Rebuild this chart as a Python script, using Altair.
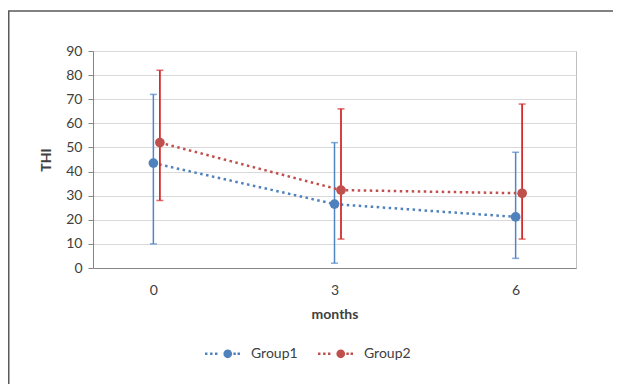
import altair as alt
import pandas as pd

months = [0, 3, 6]
groups = ["Group1", "Group2"]
g1_mean = [43.5, 26.5, 21.2]
g1_lo = [10, 2, 4]
g1_hi = [72, 52, 48]
g2_mean = [52, 32.3, 31]
g2_lo = [28, 12, 12]
g2_hi = [82, 66, 68]
y_ticks = list(range(0, 100, 10))

rows = []
for g, mean, lo, hi in [("Group1", g1_mean, g1_lo, g1_hi), ("Group2", g2_mean, g2_lo, g2_hi)]:
    for m, v, l, h in zip(months, mean, lo, hi):
        rows.append({"months": m, "group": g, "THI": v, "lo": l, "hi": h})
df = pd.DataFrame(rows)

FONT = "Lato"
colors = ["#4F81BD", "#C0504D"]
err_colors = ["#4F86C6", "#D42B2B"]
offsets = [0, 6.5]

xs = alt.Scale(domain=[-1, 7], nice=False, zero=False)
ys = alt.Scale(domain=[0, 90], nice=False)
cscale = alt.Scale(domain=groups, range=colors)

x_axis = alt.Axis(
    values=months, ticks=False, grid=False, domainColor="#868686",
    labelPadding=15, labelFontSize=14, labelColor="#404040", labelFont=FONT,
    title="months", titleFontWeight="bold", titleFontSize=14, titleColor="#404040",
    titleFont=FONT, titlePadding=10)
y_axis = alt.Axis(
    values=y_ticks, tickSize=5, tickColor="#868686", domainColor="#868686",
    gridColor="#D9D9D9", labelPadding=6, labelFontSize=14, labelColor="#404040",
    labelFont=FONT, labelOverlap=False, title="THI", titleFontWeight="bold",
    titleFontSize=14, titleColor="#404040", titleFont=FONT, titlePadding=12)

x_enc = alt.X("months:Q", scale=xs, axis=x_axis)

sym_path = ("M-1,-0.07 L-0.86,-0.07 L-0.86,0.07 L-1,0.07 Z "
            "M-0.71,-0.07 L-0.57,-0.07 L-0.57,0.07 L-0.71,0.07 Z "
            "M-0.43,-0.07 L-0.29,-0.07 L-0.29,0.07 L-0.43,0.07 Z "
            "M0.05,0 A0.25,0.25 0 1,0 0.55,0 A0.25,0.25 0 1,0 0.05,0 Z "
            "M0.62,-0.07 L0.76,-0.07 L0.76,0.07 L0.62,0.07 Z "
            "M0.86,-0.07 L1,-0.07 L1,0.07 L0.86,0.07 Z")

legend = alt.Legend(
    title=None, orient="none", direction="horizontal", legendX=112, legendY=285,
    symbolType=sym_path, symbolSize=1225, symbolStrokeWidth=0, symbolOpacity=1,
    labelFont=FONT, labelFontSize=14, labelColor="#404040", labelOffset=11,
    columnPadding=20)
c_enc = alt.Color("group:N", scale=cscale, legend=legend)

base = alt.Chart(df)
layers = []
for i, g in enumerate(groups):
    sub = base.transform_filter(alt.datum.group == g)
    line = sub.mark_line(strokeWidth=2.5, strokeDash=[2.5, 3.5], xOffset=offsets[i]).encode(
        x=x_enc, y=alt.Y("THI:Q", scale=ys, axis=y_axis), color=c_enc)
    rule = sub.mark_rule(color=err_colors[i], strokeWidth=1.8 if i else 1.5, xOffset=offsets[i]).encode(
        x=x_enc, y=alt.Y("lo:Q", scale=ys, axis=y_axis), y2="hi:Q")
    cap_lo = sub.mark_tick(color=err_colors[i], orient="horizontal", size=7,
                           thickness=1.5, xOffset=offsets[i]).encode(
        x=x_enc, y=alt.Y("lo:Q", scale=ys, axis=y_axis))
    cap_hi = sub.mark_tick(color=err_colors[i], orient="horizontal", size=7,
                           thickness=1.5, xOffset=offsets[i]).encode(
        x=x_enc, y=alt.Y("hi:Q", scale=ys, axis=y_axis))
    layers += [line, rule, cap_lo, cap_hi]
for i, g in enumerate(groups):
    sub = base.transform_filter(alt.datum.group == g)
    pts = sub.mark_point(filled=True, size=95, opacity=1, shape="circle", xOffset=offsets[i]).encode(
        x=x_enc, y=alt.Y("THI:Q", scale=ys, axis=y_axis), color=c_enc)
    layers.append(pts)

frame = alt.Chart(alt.Data(values=[{}])).mark_rect(
    fill="transparent", stroke="#595959", strokeWidth=1.5).encode(
    x=alt.value(-84.25), x2=alt.value(560), y=alt.value(-40), y2=alt.value(420))

chart = alt.layer(*layers, frame).properties(
    width=483, height=217,
    autosize=alt.AutoSizeParams(type="none"),
    padding={"left": 85, "top": 43, "right": 37, "bottom": 116},
    background="white",
).configure_view(stroke="#BFBFBF", strokeWidth=1)

chart.save("out.html", embed_options={"renderer": "svg", "actions": False})
